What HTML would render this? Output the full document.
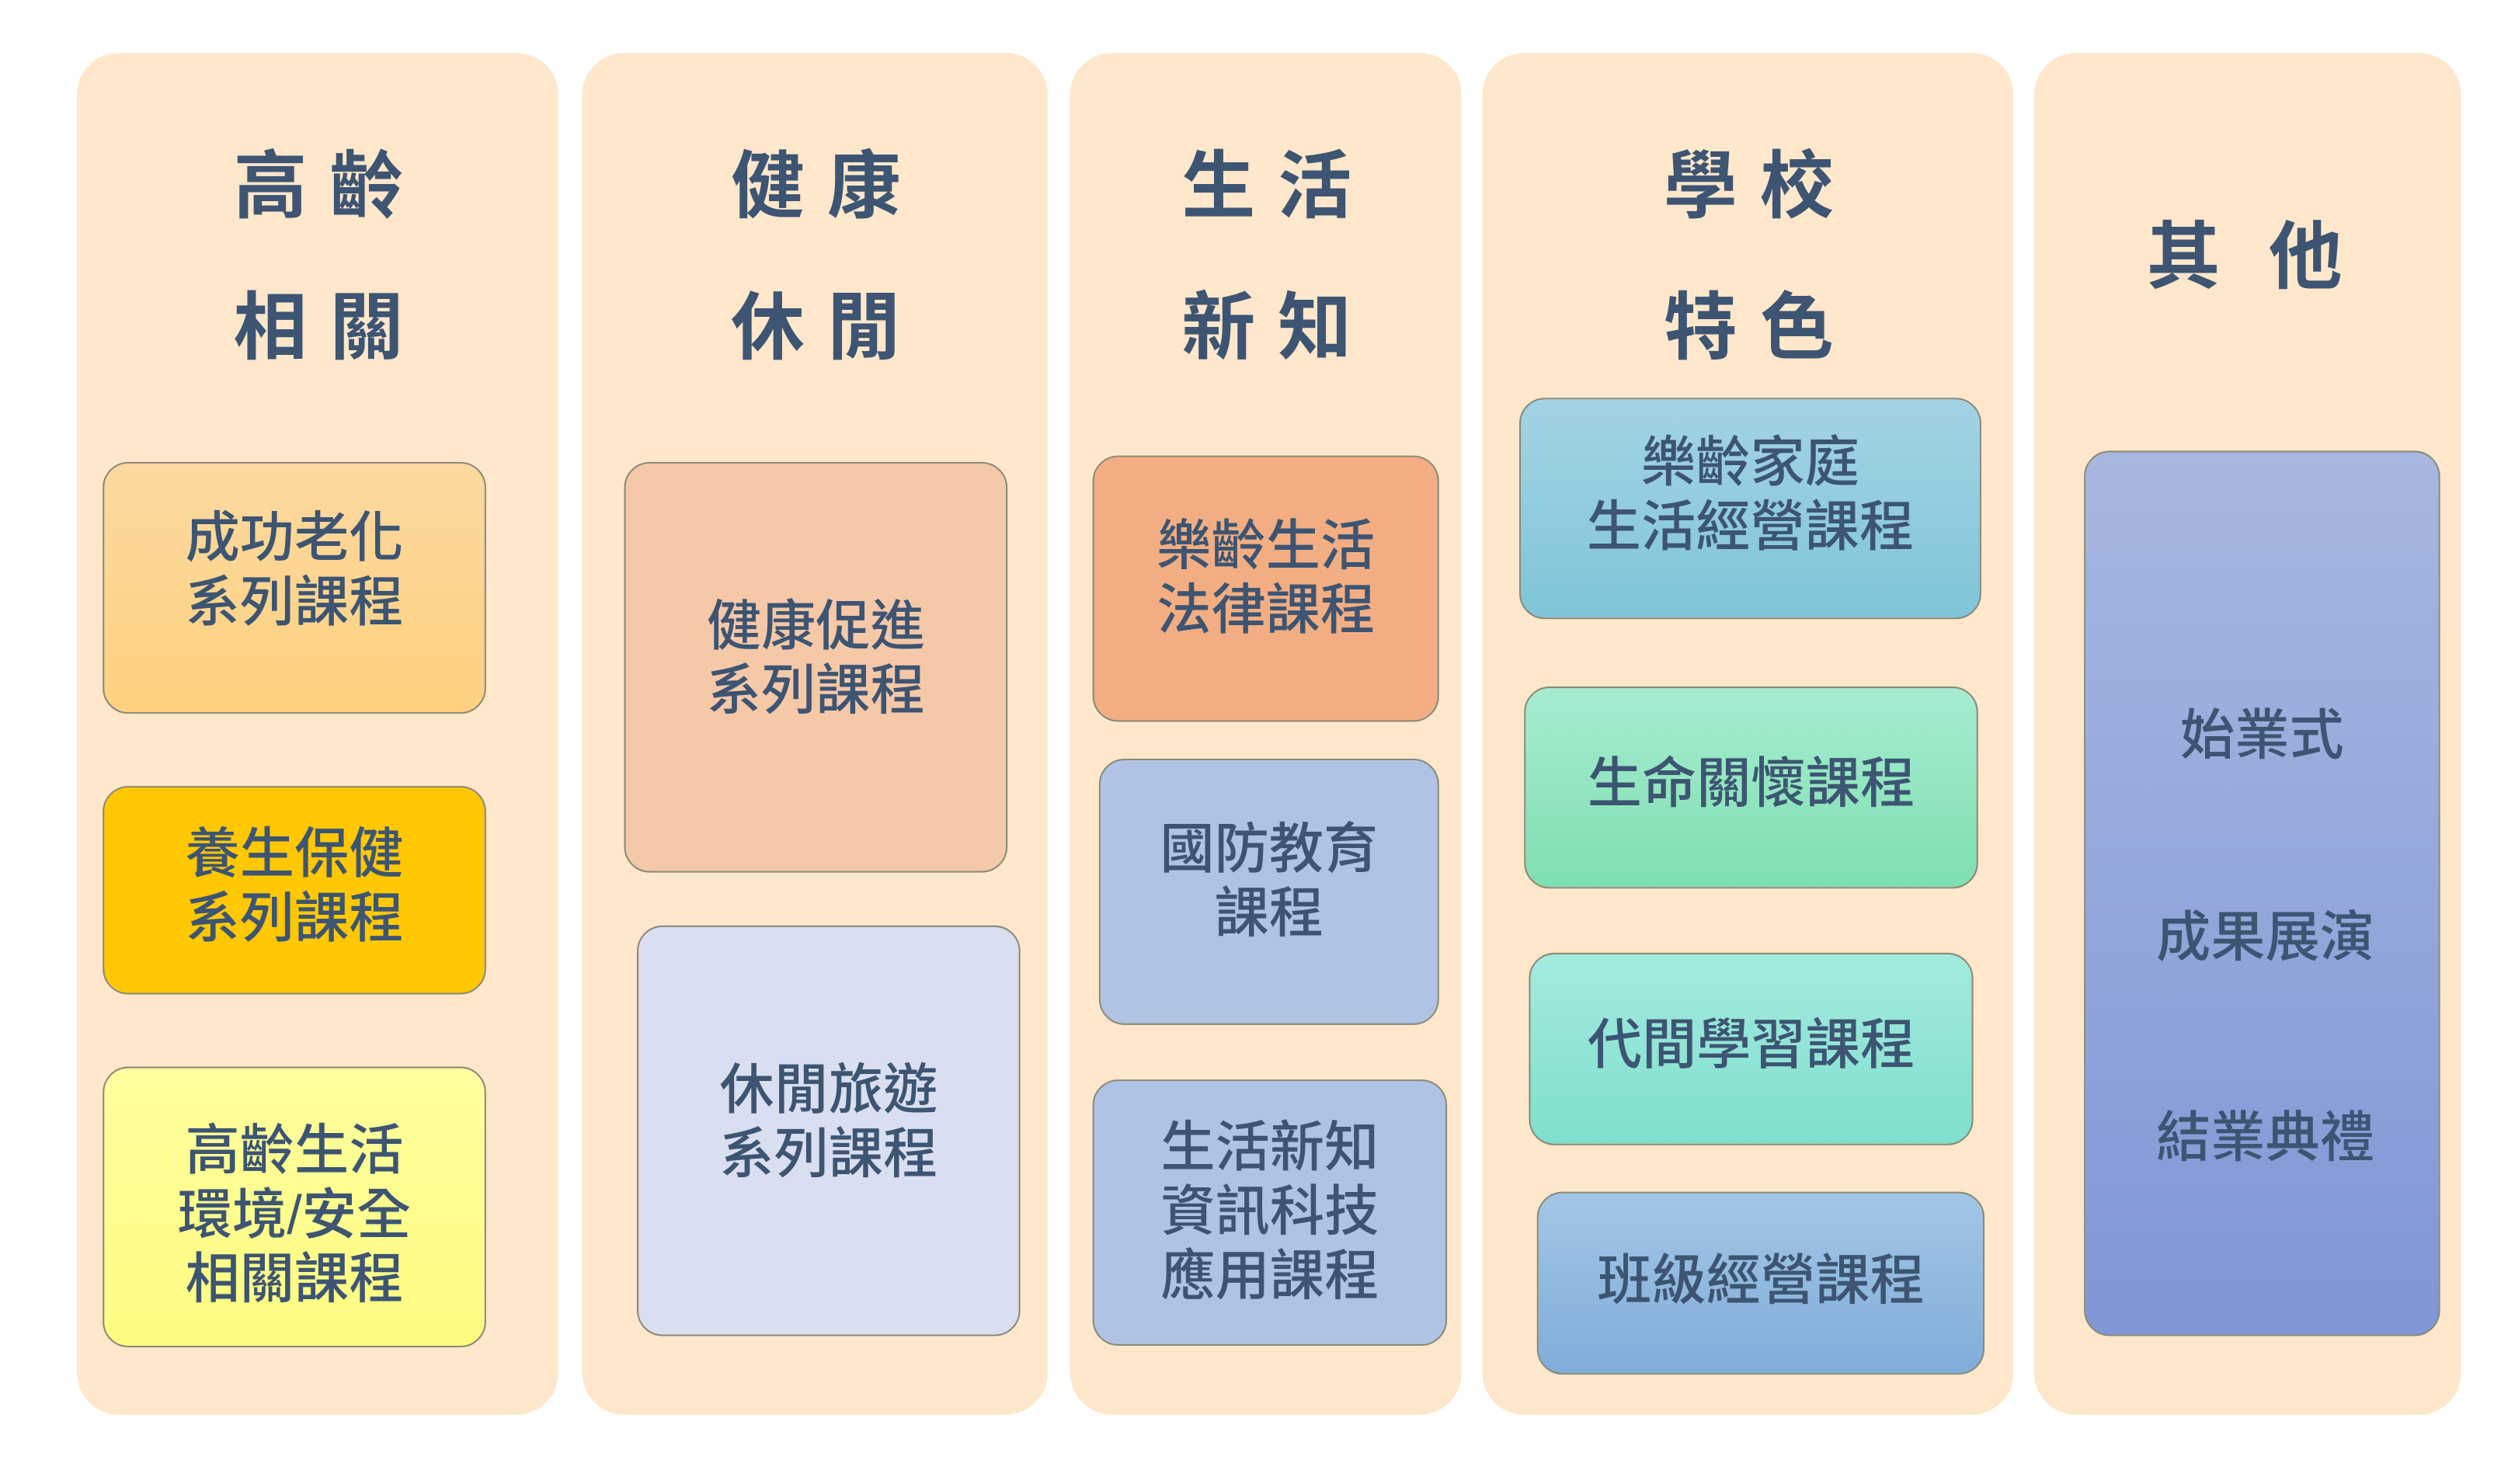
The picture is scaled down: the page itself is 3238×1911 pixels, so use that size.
<!DOCTYPE html>
<html><head><meta charset="utf-8"><style>
html,body{margin:0;padding:0;background:#fff;}
body{width:3238px;height:1907px;overflow:hidden;position:relative;}
#w{position:absolute;left:0;top:0;width:1570px;height:925px;transform:scale(2.0655);transform-origin:0 0;font-family:"Liberation Sans","Noto Sans CJK TC",sans-serif;color:#3d5572;}
.col{position:absolute;background:#fee7cb;border-radius:26px;}
.h{position:absolute;text-align:center;font-weight:bold;font-size:46px;line-height:88px;letter-spacing:14px;}
.b{position:absolute;border:1px solid #8a8a7a;border-radius:16px;display:flex;align-items:center;justify-content:center;text-align:center;font-size:34px;line-height:40px;font-weight:500;box-sizing:border-box;}
</style></head><body><div id="w">
<div class="col" style="left:48px;top:33px;width:300px;height:849px"></div>
<div class="col" style="left:363px;top:33px;width:290px;height:849px"></div>
<div class="col" style="left:667px;top:33px;width:244px;height:849px"></div>
<div class="col" style="left:924px;top:33px;width:331px;height:849px"></div>
<div class="col" style="left:1268px;top:33px;width:266px;height:849px"></div>

<div class="h" style="left:52px;top:72px;width:307px">高齡<br>相關</div>
<div class="h" style="left:367px;top:72px;width:297px">健康<br>休閒</div>
<div class="h" style="left:671px;top:72px;width:251px">生活<br>新知</div>
<div class="h" style="left:928px;top:72px;width:338px">學校<br>特色</div>
<div class="h" style="left:1274px;top:116px;width:280px;letter-spacing:30px">其他</div>

<div class="b" style="left:64px;top:288px;width:239px;height:157px;background:linear-gradient(#fdd9a0,#fdd17f);padding-bottom:22px">成功老化<br>系列課程</div>
<div class="b" style="left:64px;top:490px;width:239px;height:130px;background:#ffc800;padding-bottom:4px">養生保健<br>系列課程</div>
<div class="b" style="left:64px;top:665px;width:239px;height:175px;background:linear-gradient(#ffff9e,#fdfc80);padding-top:10px">高齡生活<br>環境/安全<br>相關課程</div>

<div class="b" style="left:389px;top:288px;width:239px;height:256px;background:#f5c8a8;padding-bottom:10px">健康促進<br>系列課程</div>
<div class="b" style="left:397px;top:577px;width:239px;height:256px;background:#d9dff0;padding-bottom:10px">休閒旅遊<br>系列課程</div>

<div class="b" style="left:681px;top:284px;width:216px;height:166px;background:#f2ae82;padding-bottom:12px">樂齡生活<br>法律課程</div>
<div class="b" style="left:685px;top:473px;width:212px;height:166px;background:#b0c3e4;padding-bottom:12px">國防教育<br>課程</div>
<div class="b" style="left:681px;top:673px;width:221px;height:166px;background:#b0c3e4;padding-bottom:0px">生活新知<br>資訊科技<br>應用課程</div>

<div class="b" style="left:947px;top:248px;width:288px;height:138px;background:linear-gradient(#a3d3e4,#7fc5d8);padding-bottom:16px">樂齡家庭<br>生活經營課程</div>
<div class="b" style="left:950px;top:428px;width:283px;height:126px;background:linear-gradient(#a6ecd0,#7fdfb0);padding-bottom:4px">生命關懷課程</div>
<div class="b" style="left:953px;top:594px;width:277px;height:120px;background:linear-gradient(#a3eadf,#7fdfcd);padding-bottom:4px">代間學習課程</div>
<div class="b" style="left:958px;top:743px;width:279px;height:114px;background:linear-gradient(#a3c6e6,#7fadd9);padding-bottom:2px">班級經營課程</div>

<div class="b" style="left:1299px;top:281px;width:222px;height:552px;background:linear-gradient(#a8b7e0,#8097d6);display:block">
<div style="position:absolute;left:0;right:0;top:157px">始業式</div>
<div style="position:absolute;left:4px;right:0;top:283px">成果展演</div>
<div style="position:absolute;left:4px;right:0;top:408px">結業典禮</div>
</div>
</div></body></html>
